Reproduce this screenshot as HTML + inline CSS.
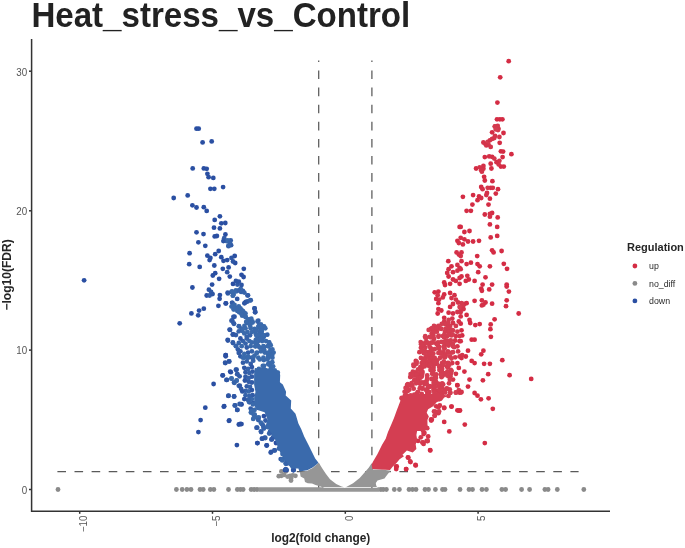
<!DOCTYPE html>
<html><head><meta charset="utf-8"><title>Heat_stress_vs_Control</title>
<style>html,body{margin:0;padding:0;background:#fff;width:685px;height:548px;overflow:hidden}svg{display:block}</style>
</head><body>
<svg width="685" height="548" viewBox="0 0 685 548">
<rect width="685" height="548" fill="#ffffff"/>
<text transform="translate(31.4,27) scale(1,1.035)" x="0" y="0" font-family="Liberation Sans, Arial, sans-serif" font-weight="bold" font-size="33.1" fill="#222">Heat_stress_vs_Control</text>
<g stroke="#5a5a5a" stroke-width="1.25" stroke-dasharray="8.6 8.5" fill="none">
<line x1="57.4" y1="471.6" x2="578.6" y2="471.6"/>
<line x1="318.7" y1="489.5" x2="318.7" y2="60.5"/>
<line x1="371.9" y1="489.5" x2="371.9" y2="60.5"/>
</g>
<g fill="#8d8d8d">
<circle cx="278.8" cy="476.2" r="2.4"/>
<circle cx="281.4" cy="475.8" r="2.4"/>
<circle cx="285.8" cy="471.4" r="2.4"/>
<circle cx="295.4" cy="475.8" r="2.4"/>
</g>
<g fill="#909090">
<circle cx="284.0" cy="474.9" r="2.4"/>
<circle cx="290.1" cy="475.8" r="2.4"/>
<circle cx="292.8" cy="475.3" r="2.4"/>
<circle cx="291.0" cy="480.6" r="2.4"/>
<circle cx="291.0" cy="478.4" r="2.4"/>
<circle cx="281.4" cy="471.4" r="2.4"/>
</g>
<g fill="#939393">
<circle cx="287.5" cy="476.6" r="2.4"/>
</g>
<g fill="#8a8a8a">
<circle cx="58.0" cy="489.5" r="2.4"/>
<circle cx="176.4" cy="489.5" r="2.4"/>
<circle cx="182.2" cy="489.5" r="2.4"/>
<circle cx="186.9" cy="489.5" r="2.4"/>
<circle cx="191.0" cy="489.5" r="2.4"/>
<circle cx="200.0" cy="489.5" r="2.4"/>
<circle cx="203.2" cy="489.5" r="2.4"/>
<circle cx="210.3" cy="489.5" r="2.4"/>
<circle cx="213.9" cy="489.5" r="2.4"/>
<circle cx="228.5" cy="489.5" r="2.4"/>
<circle cx="237.3" cy="489.5" r="2.4"/>
<circle cx="240.3" cy="489.5" r="2.4"/>
<circle cx="243.1" cy="489.5" r="2.4"/>
<circle cx="251.1" cy="489.5" r="2.4"/>
<circle cx="254.0" cy="489.5" r="2.4"/>
<circle cx="257.0" cy="489.5" r="2.4"/>
<circle cx="380.8" cy="489.5" r="2.4"/>
<circle cx="383.2" cy="489.5" r="2.4"/>
<circle cx="386.4" cy="489.5" r="2.4"/>
<circle cx="394.3" cy="489.5" r="2.4"/>
<circle cx="399.4" cy="489.5" r="2.4"/>
<circle cx="409.0" cy="489.5" r="2.4"/>
<circle cx="412.5" cy="489.5" r="2.4"/>
<circle cx="416.0" cy="489.5" r="2.4"/>
<circle cx="425.0" cy="489.5" r="2.4"/>
<circle cx="428.5" cy="489.5" r="2.4"/>
<circle cx="435.4" cy="489.5" r="2.4"/>
<circle cx="442.5" cy="489.5" r="2.4"/>
<circle cx="445.0" cy="489.5" r="2.4"/>
<circle cx="460.0" cy="489.5" r="2.4"/>
<circle cx="469.0" cy="489.5" r="2.4"/>
<circle cx="472.5" cy="489.5" r="2.4"/>
<circle cx="482.0" cy="489.5" r="2.4"/>
<circle cx="486.4" cy="489.5" r="2.4"/>
<circle cx="501.9" cy="489.5" r="2.4"/>
<circle cx="505.6" cy="489.5" r="2.4"/>
<circle cx="521.6" cy="489.5" r="2.4"/>
<circle cx="529.6" cy="489.5" r="2.4"/>
<circle cx="544.9" cy="489.5" r="2.4"/>
<circle cx="548.1" cy="489.5" r="2.4"/>
<circle cx="557.3" cy="489.5" r="2.4"/>
<circle cx="583.8" cy="489.5" r="2.4"/>
</g>
<g fill="#2a4fa2">
<circle cx="196.5" cy="128.7" r="2.4"/>
<circle cx="198.7" cy="128.7" r="2.4"/>
<circle cx="202.6" cy="142.4" r="2.4"/>
<circle cx="211.7" cy="141.4" r="2.4"/>
<circle cx="192.7" cy="168.4" r="2.4"/>
<circle cx="203.8" cy="168.4" r="2.4"/>
<circle cx="206.7" cy="168.8" r="2.4"/>
<circle cx="207.4" cy="173.8" r="2.4"/>
<circle cx="208.6" cy="177.2" r="2.4"/>
<circle cx="213.3" cy="177.9" r="2.4"/>
<circle cx="210.4" cy="188.8" r="2.4"/>
<circle cx="214.3" cy="188.8" r="2.4"/>
<circle cx="223.1" cy="187.1" r="2.4"/>
<circle cx="173.7" cy="198.0" r="2.4"/>
<circle cx="187.7" cy="195.4" r="2.4"/>
<circle cx="192.4" cy="205.3" r="2.4"/>
<circle cx="196.5" cy="207.5" r="2.4"/>
<circle cx="203.8" cy="207.2" r="2.4"/>
<circle cx="206.7" cy="210.9" r="2.4"/>
<circle cx="219.9" cy="216.3" r="2.4"/>
<circle cx="214.7" cy="219.9" r="2.4"/>
<circle cx="221.3" cy="223.3" r="2.4"/>
<circle cx="225.3" cy="223.0" r="2.4"/>
<circle cx="214.0" cy="227.7" r="2.4"/>
<circle cx="219.9" cy="228.4" r="2.4"/>
<circle cx="196.5" cy="232.3" r="2.4"/>
<circle cx="203.5" cy="234.1" r="2.4"/>
<circle cx="214.7" cy="236.4" r="2.4"/>
<circle cx="216.9" cy="236.0" r="2.4"/>
<circle cx="225.4" cy="234.5" r="2.4"/>
<circle cx="198.4" cy="242.3" r="2.4"/>
<circle cx="205.3" cy="245.8" r="2.4"/>
<circle cx="189.6" cy="253.2" r="2.4"/>
<circle cx="218.7" cy="251.0" r="2.4"/>
<circle cx="215.2" cy="254.2" r="2.4"/>
<circle cx="207.4" cy="255.7" r="2.4"/>
<circle cx="210.4" cy="257.9" r="2.4"/>
<circle cx="209.6" cy="260.1" r="2.4"/>
<circle cx="221.3" cy="257.2" r="2.4"/>
<circle cx="223.5" cy="260.8" r="2.4"/>
<circle cx="227.2" cy="260.1" r="2.4"/>
<circle cx="234.7" cy="256.0" r="2.4"/>
<circle cx="235.2" cy="263.0" r="2.4"/>
<circle cx="189.2" cy="264.2" r="2.4"/>
<circle cx="199.7" cy="266.9" r="2.4"/>
<circle cx="214.3" cy="265.5" r="2.4"/>
<circle cx="222.8" cy="268.8" r="2.4"/>
<circle cx="228.6" cy="267.4" r="2.4"/>
<circle cx="212.8" cy="275.5" r="2.4"/>
<circle cx="215.2" cy="273.2" r="2.4"/>
<circle cx="219.1" cy="278.8" r="2.4"/>
<circle cx="229.8" cy="276.6" r="2.4"/>
<circle cx="192.4" cy="287.5" r="2.4"/>
<circle cx="212.1" cy="284.6" r="2.4"/>
<circle cx="206.7" cy="295.5" r="2.4"/>
<circle cx="219.9" cy="295.1" r="2.4"/>
<circle cx="219.6" cy="298.8" r="2.4"/>
<circle cx="218.4" cy="305.8" r="2.4"/>
<circle cx="226.0" cy="303.3" r="2.4"/>
<circle cx="233.0" cy="283.9" r="2.4"/>
<circle cx="203.8" cy="308.7" r="2.4"/>
<circle cx="199.1" cy="310.6" r="2.4"/>
<circle cx="198.2" cy="315.3" r="2.4"/>
<circle cx="191.4" cy="313.4" r="2.4"/>
<circle cx="179.7" cy="323.3" r="2.4"/>
<circle cx="225.7" cy="355.1" r="2.4"/>
<circle cx="230.8" cy="372.2" r="2.4"/>
<circle cx="222.8" cy="375.3" r="2.4"/>
<circle cx="213.6" cy="384.0" r="2.4"/>
<circle cx="205.3" cy="407.7" r="2.4"/>
<circle cx="224.2" cy="406.2" r="2.4"/>
<circle cx="200.6" cy="420.1" r="2.4"/>
<circle cx="229.3" cy="420.5" r="2.4"/>
<circle cx="238.8" cy="424.5" r="2.4"/>
<circle cx="198.4" cy="432.1" r="2.4"/>
<circle cx="236.9" cy="445.1" r="2.4"/>
<circle cx="84.1" cy="280.3" r="2.4"/>
<circle cx="243.8" cy="268.8" r="2.4"/>
<circle cx="241.5" cy="274.8" r="2.4"/>
<circle cx="243.6" cy="277.0" r="2.4"/>
<circle cx="225.7" cy="303.4" r="2.4"/>
<circle cx="229.6" cy="329.6" r="2.4"/>
<circle cx="227.7" cy="339.8" r="2.4"/>
<circle cx="225.7" cy="355.1" r="2.4"/>
<circle cx="225.7" cy="356.3" r="2.4"/>
<circle cx="222.6" cy="375.4" r="2.4"/>
<circle cx="230.2" cy="371.6" r="2.4"/>
<circle cx="223.8" cy="406.7" r="2.4"/>
<circle cx="241.1" cy="404.2" r="2.4"/>
<circle cx="228.9" cy="420.8" r="2.4"/>
<circle cx="240.4" cy="424.0" r="2.4"/>
<circle cx="241.5" cy="404.4" r="2.4"/>
<circle cx="241.5" cy="424.1" r="2.4"/>
<circle cx="257.5" cy="443.1" r="2.4"/>
<circle cx="266.6" cy="445.5" r="2.4"/>
<circle cx="286.7" cy="470.1" r="2.4"/>
<circle cx="263.9" cy="416.1" r="2.4"/>
<circle cx="256.6" cy="427.7" r="2.4"/>
<circle cx="257.3" cy="443.1" r="2.4"/>
<circle cx="266.8" cy="445.3" r="2.4"/>
<circle cx="285.0" cy="470.1" r="2.4"/>
<circle cx="276.0" cy="443.0" r="2.4"/>
</g>
<g fill="#325ca7">
<circle cx="224.2" cy="238.2" r="2.4"/>
<circle cx="231.1" cy="245.2" r="2.4"/>
<circle cx="211.1" cy="291.9" r="2.4"/>
<circle cx="209.6" cy="295.5" r="2.4"/>
<circle cx="237.4" cy="284.6" r="2.4"/>
<circle cx="232.3" cy="302.8" r="2.4"/>
<circle cx="232.3" cy="320.4" r="2.4"/>
<circle cx="233.7" cy="323.3" r="2.4"/>
<circle cx="233.0" cy="334.2" r="2.4"/>
<circle cx="235.9" cy="335.0" r="2.4"/>
<circle cx="233.0" cy="343.0" r="2.4"/>
<circle cx="238.8" cy="352.9" r="2.4"/>
<circle cx="235.9" cy="369.7" r="2.4"/>
<circle cx="237.4" cy="374.1" r="2.4"/>
<circle cx="239.6" cy="376.3" r="2.4"/>
<circle cx="235.2" cy="405.5" r="2.4"/>
<circle cx="239.6" cy="404.0" r="2.4"/>
<circle cx="230.7" cy="240.4" r="2.4"/>
<circle cx="228.5" cy="246.2" r="2.4"/>
<circle cx="242.9" cy="290.9" r="2.4"/>
<circle cx="248.0" cy="295.3" r="2.4"/>
<circle cx="245.8" cy="301.8" r="2.4"/>
<circle cx="247.5" cy="295.4" r="2.4"/>
<circle cx="244.9" cy="302.8" r="2.4"/>
<circle cx="247.5" cy="301.5" r="2.4"/>
<circle cx="250.7" cy="300.2" r="2.4"/>
<circle cx="232.1" cy="302.8" r="2.4"/>
<circle cx="231.5" cy="320.7" r="2.4"/>
<circle cx="234.0" cy="323.8" r="2.4"/>
<circle cx="258.3" cy="320.7" r="2.4"/>
<circle cx="232.8" cy="342.4" r="2.4"/>
<circle cx="237.9" cy="349.4" r="2.4"/>
<circle cx="269.2" cy="342.4" r="2.4"/>
<circle cx="246.8" cy="347.5" r="2.4"/>
<circle cx="240.4" cy="351.3" r="2.4"/>
<circle cx="248.1" cy="352.6" r="2.4"/>
<circle cx="237.2" cy="374.2" r="2.4"/>
<circle cx="226.4" cy="379.9" r="2.4"/>
<circle cx="241.1" cy="388.8" r="2.4"/>
<circle cx="234.7" cy="405.4" r="2.4"/>
<circle cx="240.4" cy="356.3" r="2.4"/>
<circle cx="251.9" cy="357.6" r="2.4"/>
<circle cx="243.0" cy="362.7" r="2.4"/>
<circle cx="250.7" cy="363.9" r="2.4"/>
<circle cx="245.5" cy="372.2" r="2.4"/>
<circle cx="252.6" cy="371.6" r="2.4"/>
<circle cx="245.5" cy="376.7" r="2.4"/>
<circle cx="251.9" cy="376.7" r="2.4"/>
<circle cx="248.7" cy="381.8" r="2.4"/>
<circle cx="251.9" cy="382.5" r="2.4"/>
<circle cx="246.8" cy="386.3" r="2.4"/>
<circle cx="252.6" cy="395.2" r="2.4"/>
<circle cx="249.4" cy="402.3" r="2.4"/>
<circle cx="253.2" cy="402.9" r="2.4"/>
<circle cx="250.7" cy="408.6" r="2.4"/>
<circle cx="257.2" cy="427.7" r="2.4"/>
<circle cx="261.2" cy="432.1" r="2.4"/>
<circle cx="271.4" cy="439.4" r="2.4"/>
<circle cx="264.8" cy="437.7" r="2.4"/>
<circle cx="274.3" cy="450.4" r="2.4"/>
<circle cx="260.9" cy="431.4" r="2.4"/>
<circle cx="270.4" cy="432.8" r="2.4"/>
<circle cx="265.3" cy="438.0" r="2.4"/>
<circle cx="271.9" cy="439.4" r="2.4"/>
<circle cx="274.8" cy="450.4" r="2.4"/>
<circle cx="280.7" cy="459.1" r="2.4"/>
<circle cx="285.8" cy="469.2" r="2.4"/>
<circle cx="265.5" cy="420.5" r="2.4"/>
<circle cx="270.0" cy="432.0" r="2.4"/>
<circle cx="273.0" cy="437.5" r="2.4"/>
</g>
<g fill="#3a6aac">
<circle cx="227.9" cy="240.4" r="2.4"/>
<circle cx="226.4" cy="241.1" r="2.4"/>
<circle cx="231.5" cy="291.9" r="2.4"/>
<circle cx="233.7" cy="294.1" r="2.4"/>
<circle cx="235.9" cy="290.4" r="2.4"/>
<circle cx="233.0" cy="295.5" r="2.4"/>
<circle cx="234.5" cy="305.0" r="2.4"/>
<circle cx="235.9" cy="308.0" r="2.4"/>
<circle cx="233.7" cy="309.4" r="2.4"/>
<circle cx="237.4" cy="310.9" r="2.4"/>
<circle cx="238.8" cy="306.5" r="2.4"/>
<circle cx="238.8" cy="326.2" r="2.4"/>
<circle cx="231.5" cy="378.5" r="2.4"/>
<circle cx="236.6" cy="380.7" r="2.4"/>
<circle cx="240.7" cy="288.7" r="2.4"/>
<circle cx="241.5" cy="309.9" r="2.4"/>
<circle cx="244.4" cy="312.8" r="2.4"/>
<circle cx="242.2" cy="315.7" r="2.4"/>
<circle cx="245.8" cy="317.2" r="2.4"/>
<circle cx="250.2" cy="319.3" r="2.4"/>
<circle cx="252.4" cy="321.5" r="2.4"/>
<circle cx="247.3" cy="323.0" r="2.4"/>
<circle cx="250.2" cy="325.9" r="2.4"/>
<circle cx="259.0" cy="325.2" r="2.4"/>
<circle cx="261.9" cy="325.9" r="2.4"/>
<circle cx="264.1" cy="327.4" r="2.4"/>
<circle cx="260.4" cy="328.8" r="2.4"/>
<circle cx="254.6" cy="328.8" r="2.4"/>
<circle cx="244.4" cy="325.9" r="2.4"/>
<circle cx="241.5" cy="328.8" r="2.4"/>
<circle cx="232.1" cy="291.3" r="2.4"/>
<circle cx="236.6" cy="291.3" r="2.4"/>
<circle cx="232.8" cy="295.7" r="2.4"/>
<circle cx="234.0" cy="306.0" r="2.4"/>
<circle cx="231.5" cy="306.6" r="2.4"/>
<circle cx="236.6" cy="309.2" r="2.4"/>
<circle cx="240.4" cy="308.5" r="2.4"/>
<circle cx="243.0" cy="311.1" r="2.4"/>
<circle cx="239.2" cy="312.3" r="2.4"/>
<circle cx="245.5" cy="313.6" r="2.4"/>
<circle cx="241.7" cy="314.3" r="2.4"/>
<circle cx="234.0" cy="309.2" r="2.4"/>
<circle cx="245.5" cy="316.8" r="2.4"/>
<circle cx="248.1" cy="319.4" r="2.4"/>
<circle cx="251.3" cy="318.7" r="2.4"/>
<circle cx="249.4" cy="323.2" r="2.4"/>
<circle cx="252.6" cy="322.6" r="2.4"/>
<circle cx="246.2" cy="321.9" r="2.4"/>
<circle cx="260.9" cy="324.5" r="2.4"/>
<circle cx="264.1" cy="326.4" r="2.4"/>
<circle cx="262.1" cy="328.3" r="2.4"/>
<circle cx="265.3" cy="328.3" r="2.4"/>
<circle cx="258.3" cy="327.0" r="2.4"/>
<circle cx="242.3" cy="330.9" r="2.4"/>
<circle cx="245.5" cy="328.3" r="2.4"/>
<circle cx="247.5" cy="332.1" r="2.4"/>
<circle cx="244.3" cy="333.4" r="2.4"/>
<circle cx="250.7" cy="328.3" r="2.4"/>
<circle cx="251.9" cy="332.1" r="2.4"/>
<circle cx="254.5" cy="330.9" r="2.4"/>
<circle cx="255.8" cy="334.1" r="2.4"/>
<circle cx="259.6" cy="332.1" r="2.4"/>
<circle cx="262.1" cy="334.1" r="2.4"/>
<circle cx="264.7" cy="335.3" r="2.4"/>
<circle cx="259.6" cy="336.6" r="2.4"/>
<circle cx="263.4" cy="337.3" r="2.4"/>
<circle cx="249.4" cy="341.1" r="2.4"/>
<circle cx="251.9" cy="342.4" r="2.4"/>
<circle cx="255.8" cy="339.8" r="2.4"/>
<circle cx="258.3" cy="341.1" r="2.4"/>
<circle cx="262.1" cy="341.1" r="2.4"/>
<circle cx="266.0" cy="341.1" r="2.4"/>
<circle cx="241.7" cy="346.2" r="2.4"/>
<circle cx="250.7" cy="346.2" r="2.4"/>
<circle cx="255.8" cy="346.2" r="2.4"/>
<circle cx="259.6" cy="347.5" r="2.4"/>
<circle cx="263.4" cy="346.2" r="2.4"/>
<circle cx="267.9" cy="346.2" r="2.4"/>
<circle cx="270.4" cy="350.0" r="2.4"/>
<circle cx="272.4" cy="349.4" r="2.4"/>
<circle cx="244.3" cy="353.9" r="2.4"/>
<circle cx="260.9" cy="351.3" r="2.4"/>
<circle cx="264.7" cy="352.6" r="2.4"/>
<circle cx="268.5" cy="353.9" r="2.4"/>
<circle cx="271.1" cy="353.9" r="2.4"/>
<circle cx="273.6" cy="352.6" r="2.4"/>
<circle cx="243.0" cy="357.7" r="2.4"/>
<circle cx="248.1" cy="357.7" r="2.4"/>
<circle cx="253.2" cy="357.7" r="2.4"/>
<circle cx="258.3" cy="357.7" r="2.4"/>
<circle cx="263.4" cy="357.7" r="2.4"/>
<circle cx="268.5" cy="357.7" r="2.4"/>
<circle cx="272.4" cy="357.7" r="2.4"/>
<circle cx="231.5" cy="378.6" r="2.4"/>
<circle cx="236.6" cy="380.5" r="2.4"/>
<circle cx="251.3" cy="412.5" r="2.4"/>
<circle cx="253.8" cy="415.0" r="2.4"/>
<circle cx="257.0" cy="417.6" r="2.4"/>
<circle cx="244.3" cy="357.6" r="2.4"/>
<circle cx="248.1" cy="356.3" r="2.4"/>
<circle cx="254.5" cy="355.6" r="2.4"/>
<circle cx="248.7" cy="391.4" r="2.4"/>
<circle cx="251.9" cy="399.1" r="2.4"/>
<circle cx="254.5" cy="409.9" r="2.4"/>
<circle cx="253.2" cy="418.9" r="2.4"/>
<circle cx="260.9" cy="422.7" r="2.4"/>
<circle cx="248.8" cy="401.5" r="2.4"/>
<circle cx="250.9" cy="412.4" r="2.4"/>
<circle cx="254.6" cy="414.6" r="2.4"/>
<circle cx="258.2" cy="419.0" r="2.4"/>
<circle cx="261.9" cy="424.1" r="2.4"/>
<circle cx="263.4" cy="427.0" r="2.4"/>
<circle cx="282.3" cy="459.1" r="2.4"/>
<circle cx="252.9" cy="404.4" r="2.4"/>
<circle cx="256.6" cy="402.9" r="2.4"/>
<circle cx="251.5" cy="410.9" r="2.4"/>
<circle cx="254.4" cy="414.6" r="2.4"/>
<circle cx="258.8" cy="417.5" r="2.4"/>
<circle cx="274.1" cy="435.0" r="2.4"/>
<circle cx="285.0" cy="456.9" r="2.4"/>
<circle cx="285.8" cy="463.5" r="2.4"/>
<circle cx="285.8" cy="463.5" r="2.4"/>
<circle cx="282.3" cy="460.4" r="2.4"/>
<circle cx="267.5" cy="427.0" r="2.4"/>
<circle cx="279.0" cy="448.5" r="2.4"/>
<circle cx="282.5" cy="454.0" r="2.4"/>
<circle cx="286.0" cy="459.0" r="2.4"/>
<circle cx="290.0" cy="463.5" r="2.4"/>
<circle cx="294.0" cy="466.5" r="2.4"/>
</g>
<g fill="#3663aa">
<circle cx="229.8" cy="242.6" r="2.4"/>
<circle cx="228.6" cy="245.5" r="2.4"/>
<circle cx="227.9" cy="293.4" r="2.4"/>
<circle cx="238.8" cy="290.4" r="2.4"/>
<circle cx="238.8" cy="331.3" r="2.4"/>
<circle cx="235.9" cy="345.9" r="2.4"/>
<circle cx="238.8" cy="343.0" r="2.4"/>
<circle cx="234.5" cy="382.8" r="2.4"/>
<circle cx="238.8" cy="385.8" r="2.4"/>
<circle cx="250.2" cy="300.4" r="2.4"/>
<circle cx="257.5" cy="321.5" r="2.4"/>
<circle cx="241.1" cy="291.9" r="2.4"/>
<circle cx="244.3" cy="292.6" r="2.4"/>
<circle cx="239.2" cy="326.4" r="2.4"/>
<circle cx="250.0" cy="335.3" r="2.4"/>
<circle cx="246.8" cy="336.6" r="2.4"/>
<circle cx="267.3" cy="334.7" r="2.4"/>
<circle cx="236.0" cy="346.2" r="2.4"/>
<circle cx="243.0" cy="341.1" r="2.4"/>
<circle cx="245.5" cy="343.6" r="2.4"/>
<circle cx="246.8" cy="338.5" r="2.4"/>
<circle cx="251.9" cy="351.3" r="2.4"/>
<circle cx="257.0" cy="352.6" r="2.4"/>
<circle cx="234.0" cy="382.5" r="2.4"/>
<circle cx="246.8" cy="361.4" r="2.4"/>
<circle cx="253.2" cy="360.7" r="2.4"/>
<circle cx="248.1" cy="369.0" r="2.4"/>
<circle cx="249.4" cy="372.9" r="2.4"/>
<circle cx="248.7" cy="378.0" r="2.4"/>
<circle cx="250.0" cy="386.9" r="2.4"/>
<circle cx="245.5" cy="390.8" r="2.4"/>
<circle cx="245.5" cy="395.2" r="2.4"/>
<circle cx="249.4" cy="395.9" r="2.4"/>
<circle cx="248.1" cy="399.7" r="2.4"/>
<circle cx="258.3" cy="420.1" r="2.4"/>
<circle cx="269.2" cy="433.6" r="2.4"/>
<circle cx="286.7" cy="463.5" r="2.4"/>
<circle cx="263.1" cy="425.5" r="2.4"/>
<circle cx="263.9" cy="428.5" r="2.4"/>
</g>
<g fill="#2e56a4">
<circle cx="231.5" cy="257.9" r="2.4"/>
<circle cx="233.0" cy="261.5" r="2.4"/>
<circle cx="227.2" cy="272.2" r="2.4"/>
<circle cx="208.9" cy="289.7" r="2.4"/>
<circle cx="212.6" cy="294.1" r="2.4"/>
<circle cx="235.9" cy="280.9" r="2.4"/>
<circle cx="238.8" cy="281.7" r="2.4"/>
<circle cx="234.5" cy="316.7" r="2.4"/>
<circle cx="230.1" cy="329.9" r="2.4"/>
<circle cx="227.9" cy="340.5" r="2.4"/>
<circle cx="225.4" cy="363.1" r="2.4"/>
<circle cx="229.3" cy="361.4" r="2.4"/>
<circle cx="226.9" cy="379.9" r="2.4"/>
<circle cx="228.6" cy="395.7" r="2.4"/>
<circle cx="234.2" cy="396.4" r="2.4"/>
<circle cx="237.4" cy="409.9" r="2.4"/>
<circle cx="223.4" cy="241.1" r="2.4"/>
<circle cx="241.5" cy="285.0" r="2.4"/>
<circle cx="244.4" cy="303.3" r="2.4"/>
<circle cx="254.6" cy="308.4" r="2.4"/>
<circle cx="255.3" cy="312.0" r="2.4"/>
<circle cx="227.7" cy="292.6" r="2.4"/>
<circle cx="237.2" cy="298.9" r="2.4"/>
<circle cx="254.5" cy="308.5" r="2.4"/>
<circle cx="255.1" cy="312.3" r="2.4"/>
<circle cx="233.4" cy="316.8" r="2.4"/>
<circle cx="232.8" cy="334.7" r="2.4"/>
<circle cx="240.4" cy="338.5" r="2.4"/>
<circle cx="225.1" cy="362.7" r="2.4"/>
<circle cx="228.9" cy="361.4" r="2.4"/>
<circle cx="236.6" cy="369.7" r="2.4"/>
<circle cx="239.8" cy="385.7" r="2.4"/>
<circle cx="242.3" cy="391.4" r="2.4"/>
<circle cx="228.3" cy="395.9" r="2.4"/>
<circle cx="234.0" cy="396.5" r="2.4"/>
<circle cx="237.2" cy="409.9" r="2.4"/>
<circle cx="244.3" cy="367.8" r="2.4"/>
<circle cx="251.9" cy="367.1" r="2.4"/>
<circle cx="244.9" cy="380.5" r="2.4"/>
<circle cx="251.9" cy="390.1" r="2.4"/>
<circle cx="244.3" cy="399.1" r="2.4"/>
<circle cx="261.9" cy="438.7" r="2.4"/>
<circle cx="270.7" cy="452.6" r="2.4"/>
<circle cx="293.3" cy="470.1" r="2.4"/>
<circle cx="262.4" cy="438.7" r="2.4"/>
<circle cx="271.2" cy="451.8" r="2.4"/>
<circle cx="293.8" cy="470.1" r="2.4"/>
<circle cx="293.2" cy="470.1" r="2.4"/>
</g>
<g fill="#d42c44">
<circle cx="508.7" cy="61.2" r="2.4"/>
<circle cx="500.2" cy="77.3" r="2.4"/>
<circle cx="497.4" cy="102.6" r="2.4"/>
<circle cx="497.0" cy="119.3" r="2.4"/>
<circle cx="499.9" cy="119.3" r="2.4"/>
<circle cx="502.4" cy="119.3" r="2.4"/>
<circle cx="492.1" cy="132.3" r="2.4"/>
<circle cx="503.5" cy="133.0" r="2.4"/>
<circle cx="499.7" cy="142.8" r="2.4"/>
<circle cx="500.9" cy="151.3" r="2.4"/>
<circle cx="503.1" cy="151.6" r="2.4"/>
<circle cx="511.4" cy="154.2" r="2.4"/>
<circle cx="484.8" cy="157.1" r="2.4"/>
<circle cx="492.1" cy="156.8" r="2.4"/>
<circle cx="502.6" cy="157.1" r="2.4"/>
<circle cx="490.7" cy="163.7" r="2.4"/>
<circle cx="500.9" cy="166.6" r="2.4"/>
<circle cx="503.8" cy="166.6" r="2.4"/>
<circle cx="476.1" cy="168.5" r="2.4"/>
<circle cx="491.4" cy="168.5" r="2.4"/>
<circle cx="484.1" cy="176.8" r="2.4"/>
<circle cx="484.8" cy="180.5" r="2.4"/>
<circle cx="492.4" cy="181.2" r="2.4"/>
<circle cx="481.2" cy="187.0" r="2.4"/>
<circle cx="490.7" cy="187.8" r="2.4"/>
<circle cx="498.0" cy="189.2" r="2.4"/>
<circle cx="495.8" cy="193.6" r="2.4"/>
<circle cx="462.9" cy="196.8" r="2.4"/>
<circle cx="473.1" cy="195.1" r="2.4"/>
<circle cx="479.0" cy="196.5" r="2.4"/>
<circle cx="489.9" cy="198.7" r="2.4"/>
<circle cx="477.5" cy="200.2" r="2.4"/>
<circle cx="472.4" cy="204.6" r="2.4"/>
<circle cx="488.5" cy="204.6" r="2.4"/>
<circle cx="466.6" cy="210.8" r="2.4"/>
<circle cx="470.9" cy="210.8" r="2.4"/>
<circle cx="484.8" cy="214.5" r="2.4"/>
<circle cx="492.1" cy="213.0" r="2.4"/>
<circle cx="497.7" cy="217.4" r="2.4"/>
<circle cx="489.9" cy="224.4" r="2.4"/>
<circle cx="497.2" cy="226.9" r="2.4"/>
<circle cx="460.7" cy="226.9" r="2.4"/>
<circle cx="464.4" cy="232.0" r="2.4"/>
<circle cx="469.5" cy="231.0" r="2.4"/>
<circle cx="490.7" cy="237.4" r="2.4"/>
<circle cx="497.2" cy="235.9" r="2.4"/>
<circle cx="473.1" cy="241.5" r="2.4"/>
<circle cx="479.0" cy="240.8" r="2.4"/>
<circle cx="492.1" cy="250.3" r="2.4"/>
<circle cx="493.6" cy="252.4" r="2.4"/>
<circle cx="501.6" cy="251.0" r="2.4"/>
<circle cx="477.2" cy="256.1" r="2.4"/>
<circle cx="466.6" cy="264.1" r="2.4"/>
<circle cx="470.9" cy="262.7" r="2.4"/>
<circle cx="477.5" cy="264.1" r="2.4"/>
<circle cx="479.7" cy="266.3" r="2.4"/>
<circle cx="489.9" cy="266.3" r="2.4"/>
<circle cx="503.8" cy="263.8" r="2.4"/>
<circle cx="507.0" cy="268.8" r="2.4"/>
<circle cx="478.2" cy="272.2" r="2.4"/>
<circle cx="461.5" cy="276.5" r="2.4"/>
<circle cx="468.8" cy="279.5" r="2.4"/>
<circle cx="465.8" cy="280.9" r="2.4"/>
<circle cx="474.6" cy="280.9" r="2.4"/>
<circle cx="485.5" cy="277.3" r="2.4"/>
<circle cx="482.6" cy="284.6" r="2.4"/>
<circle cx="492.1" cy="284.6" r="2.4"/>
<circle cx="506.7" cy="284.6" r="2.4"/>
<circle cx="459.6" cy="226.9" r="2.4"/>
<circle cx="457.4" cy="240.8" r="2.4"/>
<circle cx="448.3" cy="261.2" r="2.4"/>
<circle cx="451.5" cy="266.3" r="2.4"/>
<circle cx="448.6" cy="276.5" r="2.4"/>
<circle cx="444.2" cy="282.4" r="2.4"/>
<circle cx="450.1" cy="283.8" r="2.4"/>
<circle cx="459.6" cy="283.8" r="2.4"/>
<circle cx="481.2" cy="288.6" r="2.4"/>
<circle cx="481.9" cy="290.8" r="2.4"/>
<circle cx="489.2" cy="289.4" r="2.4"/>
<circle cx="506.7" cy="286.5" r="2.4"/>
<circle cx="508.9" cy="291.6" r="2.4"/>
<circle cx="474.6" cy="300.8" r="2.4"/>
<circle cx="492.1" cy="303.7" r="2.4"/>
<circle cx="506.7" cy="300.3" r="2.4"/>
<circle cx="506.0" cy="306.2" r="2.4"/>
<circle cx="466.6" cy="314.9" r="2.4"/>
<circle cx="518.7" cy="313.5" r="2.4"/>
<circle cx="469.5" cy="320.0" r="2.4"/>
<circle cx="470.2" cy="323.0" r="2.4"/>
<circle cx="475.3" cy="325.1" r="2.4"/>
<circle cx="479.7" cy="324.1" r="2.4"/>
<circle cx="494.6" cy="319.3" r="2.4"/>
<circle cx="490.7" cy="324.4" r="2.4"/>
<circle cx="490.4" cy="329.2" r="2.4"/>
<circle cx="460.7" cy="323.7" r="2.4"/>
<circle cx="461.5" cy="330.3" r="2.4"/>
<circle cx="462.2" cy="335.4" r="2.4"/>
<circle cx="471.7" cy="339.7" r="2.4"/>
<circle cx="474.6" cy="339.7" r="2.4"/>
<circle cx="490.9" cy="336.8" r="2.4"/>
<circle cx="468.0" cy="350.7" r="2.4"/>
<circle cx="483.4" cy="350.7" r="2.4"/>
<circle cx="481.2" cy="354.3" r="2.4"/>
<circle cx="465.8" cy="356.5" r="2.4"/>
<circle cx="471.7" cy="360.9" r="2.4"/>
<circle cx="474.6" cy="363.1" r="2.4"/>
<circle cx="484.1" cy="363.8" r="2.4"/>
<circle cx="489.9" cy="363.8" r="2.4"/>
<circle cx="502.3" cy="360.2" r="2.4"/>
<circle cx="464.4" cy="371.6" r="2.4"/>
<circle cx="488.2" cy="374.2" r="2.4"/>
<circle cx="509.6" cy="375.2" r="2.4"/>
<circle cx="531.2" cy="378.9" r="2.4"/>
<circle cx="469.5" cy="379.6" r="2.4"/>
<circle cx="482.9" cy="380.3" r="2.4"/>
<circle cx="468.0" cy="386.6" r="2.4"/>
<circle cx="474.6" cy="393.0" r="2.4"/>
<circle cx="477.5" cy="395.7" r="2.4"/>
<circle cx="480.9" cy="399.3" r="2.4"/>
<circle cx="488.6" cy="398.3" r="2.4"/>
<circle cx="492.8" cy="408.8" r="2.4"/>
<circle cx="460.0" cy="410.5" r="2.4"/>
<circle cx="464.8" cy="424.6" r="2.4"/>
<circle cx="484.8" cy="443.1" r="2.4"/>
<circle cx="445.0" cy="285.0" r="2.4"/>
<circle cx="434.7" cy="292.3" r="2.4"/>
<circle cx="438.4" cy="291.6" r="2.4"/>
<circle cx="444.2" cy="294.5" r="2.4"/>
<circle cx="450.1" cy="293.0" r="2.4"/>
<circle cx="450.1" cy="306.9" r="2.4"/>
<circle cx="441.3" cy="310.5" r="2.4"/>
<circle cx="437.7" cy="313.5" r="2.4"/>
<circle cx="444.2" cy="317.8" r="2.4"/>
<circle cx="448.6" cy="312.7" r="2.4"/>
<circle cx="457.4" cy="363.1" r="2.4"/>
<circle cx="458.8" cy="367.9" r="2.4"/>
<circle cx="457.4" cy="385.4" r="2.4"/>
<circle cx="451.5" cy="406.6" r="2.4"/>
<circle cx="457.4" cy="410.3" r="2.4"/>
<circle cx="444.2" cy="421.9" r="2.4"/>
<circle cx="449.3" cy="431.4" r="2.4"/>
<circle cx="430.1" cy="450.1" r="2.4"/>
<circle cx="415.5" cy="465.0" r="2.4"/>
<circle cx="406.1" cy="469.1" r="2.4"/>
<circle cx="396.2" cy="466.7" r="2.4"/>
<circle cx="396.2" cy="469.1" r="2.4"/>
<circle cx="451.5" cy="406.6" r="2.4"/>
<circle cx="458.8" cy="410.7" r="2.4"/>
<circle cx="457.3" cy="385.1" r="2.4"/>
<circle cx="430.3" cy="450.4" r="2.4"/>
<circle cx="415.7" cy="465.4" r="2.4"/>
<circle cx="406.2" cy="469.1" r="2.4"/>
<circle cx="396.7" cy="466.5" r="2.4"/>
</g>
<g fill="#d43a4e">
<circle cx="494.8" cy="126.6" r="2.4"/>
<circle cx="497.7" cy="125.9" r="2.4"/>
<circle cx="498.5" cy="128.8" r="2.4"/>
<circle cx="495.0" cy="126.5" r="2.4"/>
<circle cx="497.2" cy="127.2" r="2.4"/>
<circle cx="498.0" cy="130.1" r="2.4"/>
<circle cx="485.5" cy="144.0" r="2.4"/>
<circle cx="488.5" cy="144.7" r="2.4"/>
<circle cx="461.5" cy="303.2" r="2.4"/>
<circle cx="464.4" cy="304.0" r="2.4"/>
<circle cx="462.9" cy="306.2" r="2.4"/>
<circle cx="444.2" cy="321.5" r="2.4"/>
<circle cx="455.9" cy="325.9" r="2.4"/>
<circle cx="457.4" cy="331.7" r="2.4"/>
<circle cx="425.3" cy="337.6" r="2.4"/>
<circle cx="419.4" cy="352.2" r="2.4"/>
<circle cx="438.4" cy="413.2" r="2.4"/>
<circle cx="426.7" cy="440.9" r="2.4"/>
<circle cx="427.7" cy="441.0" r="2.4"/>
<circle cx="427.3" cy="440.9" r="2.4"/>
</g>
<g fill="#d43e52">
<circle cx="495.8" cy="129.4" r="2.4"/>
<circle cx="487.7" cy="141.8" r="2.4"/>
<circle cx="460.7" cy="308.4" r="2.4"/>
<circle cx="459.6" cy="306.9" r="2.4"/>
<circle cx="448.6" cy="320.0" r="2.4"/>
<circle cx="446.4" cy="324.4" r="2.4"/>
<circle cx="450.1" cy="325.9" r="2.4"/>
<circle cx="434.0" cy="325.9" r="2.4"/>
<circle cx="438.4" cy="325.9" r="2.4"/>
<circle cx="431.1" cy="328.8" r="2.4"/>
<circle cx="435.5" cy="328.8" r="2.4"/>
<circle cx="431.8" cy="333.2" r="2.4"/>
<circle cx="436.9" cy="331.7" r="2.4"/>
<circle cx="441.3" cy="328.8" r="2.4"/>
<circle cx="445.0" cy="331.7" r="2.4"/>
<circle cx="448.6" cy="330.3" r="2.4"/>
<circle cx="453.0" cy="330.3" r="2.4"/>
<circle cx="429.6" cy="336.8" r="2.4"/>
<circle cx="434.0" cy="339.0" r="2.4"/>
<circle cx="438.4" cy="336.8" r="2.4"/>
<circle cx="442.8" cy="336.1" r="2.4"/>
<circle cx="447.2" cy="336.1" r="2.4"/>
<circle cx="451.5" cy="335.4" r="2.4"/>
<circle cx="422.3" cy="343.4" r="2.4"/>
<circle cx="426.7" cy="341.9" r="2.4"/>
<circle cx="431.1" cy="342.7" r="2.4"/>
<circle cx="436.2" cy="343.4" r="2.4"/>
<circle cx="441.3" cy="341.9" r="2.4"/>
<circle cx="446.4" cy="341.2" r="2.4"/>
<circle cx="450.8" cy="340.5" r="2.4"/>
<circle cx="420.9" cy="347.8" r="2.4"/>
<circle cx="425.3" cy="347.8" r="2.4"/>
<circle cx="430.4" cy="347.8" r="2.4"/>
<circle cx="434.7" cy="349.2" r="2.4"/>
<circle cx="439.1" cy="347.0" r="2.4"/>
<circle cx="444.2" cy="346.3" r="2.4"/>
<circle cx="448.6" cy="345.6" r="2.4"/>
<circle cx="453.0" cy="346.3" r="2.4"/>
<circle cx="423.8" cy="352.9" r="2.4"/>
<circle cx="428.2" cy="352.2" r="2.4"/>
<circle cx="433.3" cy="353.6" r="2.4"/>
<circle cx="438.4" cy="352.9" r="2.4"/>
<circle cx="443.5" cy="352.2" r="2.4"/>
<circle cx="447.9" cy="351.4" r="2.4"/>
<circle cx="453.0" cy="352.2" r="2.4"/>
<circle cx="420.9" cy="358.0" r="2.4"/>
<circle cx="425.3" cy="358.0" r="2.4"/>
<circle cx="429.6" cy="359.5" r="2.4"/>
<circle cx="434.7" cy="358.0" r="2.4"/>
<circle cx="439.9" cy="358.0" r="2.4"/>
<circle cx="445.0" cy="357.3" r="2.4"/>
<circle cx="450.1" cy="356.5" r="2.4"/>
<circle cx="416.5" cy="363.8" r="2.4"/>
<circle cx="421.6" cy="363.1" r="2.4"/>
<circle cx="426.7" cy="363.8" r="2.4"/>
<circle cx="431.8" cy="363.8" r="2.4"/>
<circle cx="436.9" cy="363.8" r="2.4"/>
<circle cx="442.0" cy="363.1" r="2.4"/>
<circle cx="447.2" cy="363.1" r="2.4"/>
<circle cx="451.5" cy="370.8" r="2.4"/>
<circle cx="455.9" cy="392.7" r="2.4"/>
<circle cx="438.4" cy="407.3" r="2.4"/>
<circle cx="435.5" cy="411.7" r="2.4"/>
<circle cx="434.7" cy="415.4" r="2.4"/>
<circle cx="422.3" cy="442.4" r="2.4"/>
<circle cx="421.9" cy="423.5" r="2.4"/>
<circle cx="427.2" cy="428.2" r="2.4"/>
<circle cx="439.1" cy="411.4" r="2.4"/>
<circle cx="434.0" cy="411.4" r="2.4"/>
<circle cx="434.7" cy="415.8" r="2.4"/>
<circle cx="455.9" cy="392.4" r="2.4"/>
<circle cx="458.8" cy="390.2" r="2.4"/>
<circle cx="423.0" cy="442.4" r="2.4"/>
<circle cx="423.0" cy="430.7" r="2.4"/>
</g>
<g fill="#d4354b">
<circle cx="495.0" cy="135.9" r="2.4"/>
<circle cx="499.4" cy="137.0" r="2.4"/>
<circle cx="483.4" cy="142.5" r="2.4"/>
<circle cx="489.9" cy="140.3" r="2.4"/>
<circle cx="492.1" cy="138.9" r="2.4"/>
<circle cx="494.3" cy="138.1" r="2.4"/>
<circle cx="490.7" cy="146.9" r="2.4"/>
<circle cx="486.3" cy="145.4" r="2.4"/>
<circle cx="494.3" cy="158.6" r="2.4"/>
<circle cx="499.4" cy="160.8" r="2.4"/>
<circle cx="498.7" cy="164.4" r="2.4"/>
<circle cx="479.7" cy="167.3" r="2.4"/>
<circle cx="481.2" cy="170.3" r="2.4"/>
<circle cx="483.4" cy="168.8" r="2.4"/>
<circle cx="481.9" cy="171.7" r="2.4"/>
<circle cx="487.7" cy="187.8" r="2.4"/>
<circle cx="460.7" cy="256.1" r="2.4"/>
<circle cx="457.4" cy="264.9" r="2.4"/>
<circle cx="457.4" cy="270.7" r="2.4"/>
<circle cx="463.6" cy="309.1" r="2.4"/>
<circle cx="460.7" cy="312.0" r="2.4"/>
<circle cx="462.2" cy="355.1" r="2.4"/>
<circle cx="461.5" cy="392.0" r="2.4"/>
<circle cx="437.7" cy="295.2" r="2.4"/>
<circle cx="439.1" cy="299.6" r="2.4"/>
<circle cx="455.9" cy="299.6" r="2.4"/>
<circle cx="458.1" cy="302.5" r="2.4"/>
<circle cx="457.4" cy="312.0" r="2.4"/>
<circle cx="452.3" cy="318.6" r="2.4"/>
<circle cx="453.0" cy="323.0" r="2.4"/>
<circle cx="459.6" cy="336.1" r="2.4"/>
<circle cx="455.9" cy="336.1" r="2.4"/>
<circle cx="455.2" cy="340.5" r="2.4"/>
<circle cx="459.6" cy="341.2" r="2.4"/>
<circle cx="457.4" cy="346.3" r="2.4"/>
<circle cx="458.1" cy="351.4" r="2.4"/>
<circle cx="415.8" cy="360.9" r="2.4"/>
<circle cx="455.2" cy="357.3" r="2.4"/>
<circle cx="459.6" cy="356.5" r="2.4"/>
<circle cx="452.3" cy="363.1" r="2.4"/>
<circle cx="455.9" cy="373.8" r="2.4"/>
<circle cx="453.0" cy="379.6" r="2.4"/>
<circle cx="459.6" cy="392.7" r="2.4"/>
<circle cx="431.8" cy="419.7" r="2.4"/>
<circle cx="428.2" cy="436.5" r="2.4"/>
<circle cx="423.6" cy="434.0" r="2.4"/>
<circle cx="423.6" cy="443.9" r="2.4"/>
<circle cx="436.2" cy="406.3" r="2.4"/>
<circle cx="439.8" cy="405.5" r="2.4"/>
<circle cx="431.1" cy="419.4" r="2.4"/>
<circle cx="461.0" cy="392.4" r="2.4"/>
<circle cx="420.8" cy="437.3" r="2.4"/>
<circle cx="424.4" cy="432.9" r="2.4"/>
<circle cx="410.5" cy="462.1" r="2.4"/>
</g>
<g fill="#d43048">
<circle cx="489.2" cy="156.4" r="2.4"/>
<circle cx="496.5" cy="162.2" r="2.4"/>
<circle cx="483.4" cy="165.9" r="2.4"/>
<circle cx="492.8" cy="187.8" r="2.4"/>
<circle cx="482.6" cy="189.2" r="2.4"/>
<circle cx="487.0" cy="192.9" r="2.4"/>
<circle cx="481.2" cy="198.0" r="2.4"/>
<circle cx="486.3" cy="195.1" r="2.4"/>
<circle cx="489.9" cy="213.8" r="2.4"/>
<circle cx="489.9" cy="216.7" r="2.4"/>
<circle cx="460.7" cy="237.8" r="2.4"/>
<circle cx="464.4" cy="239.3" r="2.4"/>
<circle cx="468.0" cy="241.5" r="2.4"/>
<circle cx="462.9" cy="244.4" r="2.4"/>
<circle cx="461.5" cy="252.4" r="2.4"/>
<circle cx="461.5" cy="261.2" r="2.4"/>
<circle cx="460.7" cy="269.2" r="2.4"/>
<circle cx="467.3" cy="275.8" r="2.4"/>
<circle cx="458.8" cy="243.0" r="2.4"/>
<circle cx="456.6" cy="252.4" r="2.4"/>
<circle cx="458.8" cy="254.6" r="2.4"/>
<circle cx="448.6" cy="269.2" r="2.4"/>
<circle cx="453.0" cy="272.2" r="2.4"/>
<circle cx="447.2" cy="272.9" r="2.4"/>
<circle cx="459.6" cy="267.8" r="2.4"/>
<circle cx="453.0" cy="279.5" r="2.4"/>
<circle cx="455.9" cy="280.9" r="2.4"/>
<circle cx="459.6" cy="278.0" r="2.4"/>
<circle cx="481.9" cy="300.3" r="2.4"/>
<circle cx="485.5" cy="302.5" r="2.4"/>
<circle cx="483.4" cy="304.7" r="2.4"/>
<circle cx="481.9" cy="305.4" r="2.4"/>
<circle cx="466.6" cy="303.2" r="2.4"/>
<circle cx="460.7" cy="316.4" r="2.4"/>
<circle cx="460.7" cy="341.2" r="2.4"/>
<circle cx="461.5" cy="358.0" r="2.4"/>
<circle cx="442.8" cy="297.4" r="2.4"/>
<circle cx="436.2" cy="298.9" r="2.4"/>
<circle cx="438.4" cy="303.2" r="2.4"/>
<circle cx="454.5" cy="295.2" r="2.4"/>
<circle cx="451.5" cy="298.1" r="2.4"/>
<circle cx="453.0" cy="304.0" r="2.4"/>
<circle cx="438.4" cy="309.1" r="2.4"/>
<circle cx="453.0" cy="313.5" r="2.4"/>
<circle cx="458.8" cy="321.5" r="2.4"/>
<circle cx="444.2" cy="408.1" r="2.4"/>
<circle cx="418.0" cy="440.9" r="2.4"/>
<circle cx="407.9" cy="457.4" r="2.4"/>
<circle cx="410.2" cy="461.5" r="2.4"/>
<circle cx="431.2" cy="420.6" r="2.4"/>
<circle cx="444.2" cy="407.7" r="2.4"/>
<circle cx="408.4" cy="457.7" r="2.4"/>
</g>
<g fill="#3a6aac">
<circle cx="263.8" cy="360.0" r="2.4"/>
<circle cx="260.8" cy="329.0" r="2.4"/>
<circle cx="269.3" cy="362.9" r="2.4"/>
<circle cx="271.3" cy="368.8" r="2.4"/>
<circle cx="267.4" cy="353.0" r="2.4"/>
<circle cx="257.2" cy="341.4" r="2.4"/>
<circle cx="269.2" cy="364.5" r="2.4"/>
<circle cx="262.8" cy="365.9" r="2.4"/>
<circle cx="269.1" cy="352.6" r="2.4"/>
<circle cx="259.8" cy="359.4" r="2.4"/>
<circle cx="258.3" cy="346.2" r="2.4"/>
<circle cx="258.9" cy="369.0" r="2.4"/>
<circle cx="277.8" cy="372.7" r="2.4"/>
<circle cx="263.6" cy="336.8" r="2.4"/>
<circle cx="274.7" cy="370.3" r="2.4"/>
<circle cx="265.3" cy="370.2" r="2.4"/>
<circle cx="264.9" cy="372.1" r="2.4"/>
<circle cx="268.0" cy="356.8" r="2.4"/>
<circle cx="255.2" cy="342.3" r="2.4"/>
<circle cx="261.6" cy="326.6" r="2.4"/>
<circle cx="262.5" cy="338.3" r="2.4"/>
<circle cx="257.6" cy="338.3" r="2.4"/>
<circle cx="271.8" cy="373.6" r="2.4"/>
<circle cx="258.2" cy="334.9" r="2.4"/>
<circle cx="262.4" cy="370.1" r="2.4"/>
<circle cx="263.6" cy="374.0" r="2.4"/>
<circle cx="268.6" cy="346.2" r="2.4"/>
<circle cx="271.2" cy="367.2" r="2.4"/>
<circle cx="268.4" cy="370.7" r="2.4"/>
<circle cx="256.4" cy="335.5" r="2.4"/>
<circle cx="267.2" cy="359.4" r="2.4"/>
<circle cx="270.7" cy="354.8" r="2.4"/>
<circle cx="270.7" cy="345.2" r="2.4"/>
<circle cx="270.9" cy="366.1" r="2.4"/>
<circle cx="262.9" cy="347.9" r="2.4"/>
<circle cx="262.4" cy="335.5" r="2.4"/>
<circle cx="264.0" cy="366.0" r="2.4"/>
<circle cx="261.4" cy="370.9" r="2.4"/>
<circle cx="255.2" cy="346.3" r="2.4"/>
<circle cx="272.3" cy="362.2" r="2.4"/>
<circle cx="256.7" cy="353.1" r="2.4"/>
<circle cx="257.3" cy="345.0" r="2.4"/>
<circle cx="261.8" cy="330.9" r="2.4"/>
<circle cx="264.0" cy="346.9" r="2.4"/>
<circle cx="268.9" cy="342.6" r="2.4"/>
<circle cx="256.7" cy="341.8" r="2.4"/>
<circle cx="268.1" cy="364.1" r="2.4"/>
<circle cx="275.9" cy="373.8" r="2.4"/>
<circle cx="272.2" cy="355.1" r="2.4"/>
<circle cx="260.7" cy="339.0" r="2.4"/>
<circle cx="264.3" cy="350.1" r="2.4"/>
<circle cx="273.1" cy="366.3" r="2.4"/>
<circle cx="256.3" cy="330.5" r="2.4"/>
</g>
<g fill="#d43e52">
<circle cx="449.8" cy="333.2" r="2.4"/>
<circle cx="431.1" cy="328.9" r="2.4"/>
<circle cx="439.2" cy="327.6" r="2.4"/>
<circle cx="439.0" cy="328.1" r="2.4"/>
<circle cx="438.7" cy="335.6" r="2.4"/>
<circle cx="436.7" cy="327.1" r="2.4"/>
<circle cx="445.5" cy="328.8" r="2.4"/>
<circle cx="429.9" cy="360.7" r="2.4"/>
<circle cx="451.7" cy="352.6" r="2.4"/>
<circle cx="433.0" cy="357.3" r="2.4"/>
<circle cx="439.7" cy="351.2" r="2.4"/>
<circle cx="425.5" cy="342.5" r="2.4"/>
<circle cx="445.1" cy="354.8" r="2.4"/>
<circle cx="449.1" cy="330.5" r="2.4"/>
<circle cx="451.8" cy="329.9" r="2.4"/>
<circle cx="448.9" cy="343.8" r="2.4"/>
<circle cx="423.6" cy="345.1" r="2.4"/>
<circle cx="437.2" cy="360.3" r="2.4"/>
<circle cx="438.1" cy="327.4" r="2.4"/>
<circle cx="445.2" cy="324.2" r="2.4"/>
<circle cx="448.3" cy="352.7" r="2.4"/>
<circle cx="431.1" cy="348.8" r="2.4"/>
<circle cx="447.2" cy="340.7" r="2.4"/>
<circle cx="429.4" cy="346.0" r="2.4"/>
<circle cx="433.3" cy="360.1" r="2.4"/>
<circle cx="424.3" cy="352.5" r="2.4"/>
<circle cx="444.6" cy="343.8" r="2.4"/>
<circle cx="438.0" cy="342.3" r="2.4"/>
<circle cx="436.3" cy="328.6" r="2.4"/>
<circle cx="440.9" cy="353.7" r="2.4"/>
<circle cx="432.7" cy="353.4" r="2.4"/>
<circle cx="426.0" cy="357.0" r="2.4"/>
<circle cx="432.2" cy="328.3" r="2.4"/>
<circle cx="443.9" cy="342.2" r="2.4"/>
<circle cx="426.2" cy="337.9" r="2.4"/>
<circle cx="444.4" cy="334.3" r="2.4"/>
<circle cx="424.0" cy="346.5" r="2.4"/>
<circle cx="452.7" cy="334.5" r="2.4"/>
<circle cx="428.0" cy="343.1" r="2.4"/>
<circle cx="444.4" cy="348.5" r="2.4"/>
<circle cx="448.7" cy="331.7" r="2.4"/>
<circle cx="433.5" cy="335.9" r="2.4"/>
<circle cx="437.2" cy="344.5" r="2.4"/>
<circle cx="441.8" cy="323.8" r="2.4"/>
<circle cx="431.2" cy="350.1" r="2.4"/>
<circle cx="444.1" cy="337.5" r="2.4"/>
<circle cx="434.4" cy="331.8" r="2.4"/>
<circle cx="446.2" cy="340.7" r="2.4"/>
<circle cx="430.1" cy="358.8" r="2.4"/>
<circle cx="443.7" cy="346.6" r="2.4"/>
<circle cx="440.7" cy="328.7" r="2.4"/>
<circle cx="432.3" cy="328.5" r="2.4"/>
<circle cx="430.3" cy="358.0" r="2.4"/>
<circle cx="445.7" cy="355.7" r="2.4"/>
<circle cx="448.2" cy="322.7" r="2.4"/>
<circle cx="449.5" cy="330.5" r="2.4"/>
<circle cx="420.7" cy="342.1" r="2.4"/>
<circle cx="448.4" cy="335.0" r="2.4"/>
<circle cx="424.5" cy="344.4" r="2.4"/>
<circle cx="430.7" cy="361.1" r="2.4"/>
<circle cx="427.6" cy="356.1" r="2.4"/>
<circle cx="438.5" cy="347.9" r="2.4"/>
<circle cx="432.8" cy="342.5" r="2.4"/>
<circle cx="447.9" cy="327.2" r="2.4"/>
<circle cx="437.8" cy="345.1" r="2.4"/>
<circle cx="448.0" cy="327.7" r="2.4"/>
<circle cx="443.2" cy="356.6" r="2.4"/>
<circle cx="430.5" cy="354.5" r="2.4"/>
<circle cx="428.8" cy="353.8" r="2.4"/>
<circle cx="421.1" cy="344.2" r="2.4"/>
<circle cx="423.1" cy="359.5" r="2.4"/>
<circle cx="428.7" cy="329.9" r="2.4"/>
<circle cx="425.1" cy="351.6" r="2.4"/>
<circle cx="422.6" cy="345.1" r="2.4"/>
<circle cx="425.9" cy="361.7" r="2.4"/>
<circle cx="452.9" cy="343.7" r="2.4"/>
<circle cx="454.2" cy="347.2" r="2.4"/>
<circle cx="422.5" cy="351.0" r="2.4"/>
<circle cx="424.0" cy="353.2" r="2.4"/>
<circle cx="447.5" cy="344.0" r="2.4"/>
<circle cx="425.7" cy="361.2" r="2.4"/>
<circle cx="425.2" cy="336.2" r="2.4"/>
<circle cx="444.3" cy="348.2" r="2.4"/>
<circle cx="439.0" cy="347.7" r="2.4"/>
<circle cx="451.5" cy="358.5" r="2.4"/>
<circle cx="431.1" cy="337.4" r="2.4"/>
<circle cx="435.8" cy="377.6" r="2.4"/>
<circle cx="416.1" cy="383.3" r="2.4"/>
<circle cx="409.3" cy="389.7" r="2.4"/>
<circle cx="450.4" cy="376.2" r="2.4"/>
<circle cx="429.9" cy="386.1" r="2.4"/>
<circle cx="441.6" cy="385.8" r="2.4"/>
<circle cx="427.1" cy="389.4" r="2.4"/>
<circle cx="401.7" cy="398.0" r="2.4"/>
<circle cx="446.8" cy="388.3" r="2.4"/>
<circle cx="410.9" cy="385.6" r="2.4"/>
<circle cx="411.6" cy="383.1" r="2.4"/>
<circle cx="413.4" cy="364.6" r="2.4"/>
<circle cx="441.4" cy="370.9" r="2.4"/>
<circle cx="429.3" cy="361.7" r="2.4"/>
<circle cx="429.5" cy="392.1" r="2.4"/>
<circle cx="440.9" cy="373.9" r="2.4"/>
<circle cx="407.1" cy="385.0" r="2.4"/>
<circle cx="416.3" cy="372.3" r="2.4"/>
<circle cx="411.3" cy="376.5" r="2.4"/>
<circle cx="435.6" cy="376.8" r="2.4"/>
<circle cx="433.8" cy="389.7" r="2.4"/>
<circle cx="442.2" cy="383.5" r="2.4"/>
<circle cx="428.2" cy="386.9" r="2.4"/>
<circle cx="447.7" cy="367.3" r="2.4"/>
<circle cx="422.2" cy="388.7" r="2.4"/>
<circle cx="438.2" cy="393.7" r="2.4"/>
<circle cx="414.2" cy="373.4" r="2.4"/>
<circle cx="421.8" cy="376.5" r="2.4"/>
<circle cx="433.6" cy="390.1" r="2.4"/>
<circle cx="412.3" cy="385.5" r="2.4"/>
<circle cx="439.2" cy="367.1" r="2.4"/>
<circle cx="435.5" cy="397.0" r="2.4"/>
<circle cx="420.4" cy="373.3" r="2.4"/>
<circle cx="432.8" cy="373.5" r="2.4"/>
<circle cx="431.4" cy="379.0" r="2.4"/>
<circle cx="418.4" cy="376.5" r="2.4"/>
<circle cx="407.6" cy="391.2" r="2.4"/>
<circle cx="419.8" cy="388.2" r="2.4"/>
<circle cx="429.7" cy="396.5" r="2.4"/>
<circle cx="441.5" cy="366.2" r="2.4"/>
<circle cx="423.7" cy="361.4" r="2.4"/>
<circle cx="439.4" cy="370.1" r="2.4"/>
<circle cx="450.8" cy="369.9" r="2.4"/>
<circle cx="426.7" cy="380.4" r="2.4"/>
<circle cx="443.1" cy="384.4" r="2.4"/>
<circle cx="445.9" cy="373.6" r="2.4"/>
<circle cx="435.8" cy="390.7" r="2.4"/>
<circle cx="440.7" cy="365.9" r="2.4"/>
<circle cx="430.8" cy="386.7" r="2.4"/>
<circle cx="432.2" cy="398.4" r="2.4"/>
<circle cx="450.7" cy="373.2" r="2.4"/>
<circle cx="416.7" cy="361.8" r="2.4"/>
<circle cx="433.5" cy="370.3" r="2.4"/>
<circle cx="405.6" cy="388.0" r="2.4"/>
<circle cx="435.1" cy="380.7" r="2.4"/>
<circle cx="414.3" cy="394.6" r="2.4"/>
<circle cx="448.2" cy="362.9" r="2.4"/>
<circle cx="441.3" cy="370.2" r="2.4"/>
<circle cx="450.3" cy="392.9" r="2.4"/>
<circle cx="420.0" cy="383.8" r="2.4"/>
<circle cx="401.8" cy="398.6" r="2.4"/>
<circle cx="435.1" cy="381.4" r="2.4"/>
<circle cx="425.8" cy="365.1" r="2.4"/>
<circle cx="439.0" cy="390.2" r="2.4"/>
<circle cx="418.7" cy="397.8" r="2.4"/>
<circle cx="418.1" cy="369.3" r="2.4"/>
<circle cx="410.6" cy="374.1" r="2.4"/>
<circle cx="424.8" cy="382.8" r="2.4"/>
<circle cx="429.2" cy="366.2" r="2.4"/>
<circle cx="446.8" cy="366.4" r="2.4"/>
<circle cx="435.7" cy="382.9" r="2.4"/>
<circle cx="431.4" cy="397.9" r="2.4"/>
<circle cx="413.7" cy="388.7" r="2.4"/>
<circle cx="427.2" cy="375.5" r="2.4"/>
<circle cx="421.2" cy="369.0" r="2.4"/>
<circle cx="405.7" cy="397.3" r="2.4"/>
<circle cx="433.5" cy="367.7" r="2.4"/>
<circle cx="441.9" cy="368.3" r="2.4"/>
<circle cx="434.6" cy="384.1" r="2.4"/>
<circle cx="441.5" cy="377.2" r="2.4"/>
<circle cx="449.7" cy="389.3" r="2.4"/>
<circle cx="423.6" cy="365.8" r="2.4"/>
<circle cx="413.8" cy="366.2" r="2.4"/>
<circle cx="427.3" cy="392.8" r="2.4"/>
<circle cx="438.7" cy="386.1" r="2.4"/>
<circle cx="422.5" cy="372.0" r="2.4"/>
<circle cx="441.9" cy="387.4" r="2.4"/>
<circle cx="434.7" cy="383.0" r="2.4"/>
<circle cx="441.2" cy="384.2" r="2.4"/>
<circle cx="414.1" cy="375.7" r="2.4"/>
<circle cx="416.5" cy="372.5" r="2.4"/>
<circle cx="446.8" cy="389.0" r="2.4"/>
<circle cx="432.1" cy="378.8" r="2.4"/>
<circle cx="425.5" cy="365.1" r="2.4"/>
<circle cx="424.9" cy="384.2" r="2.4"/>
<circle cx="418.5" cy="381.0" r="2.4"/>
<circle cx="404.5" cy="398.3" r="2.4"/>
<circle cx="441.4" cy="393.0" r="2.4"/>
<circle cx="441.9" cy="369.2" r="2.4"/>
<circle cx="407.3" cy="386.3" r="2.4"/>
<circle cx="443.1" cy="365.0" r="2.4"/>
<circle cx="447.4" cy="371.3" r="2.4"/>
<circle cx="443.2" cy="372.8" r="2.4"/>
<circle cx="443.8" cy="361.5" r="2.4"/>
<circle cx="431.8" cy="369.9" r="2.4"/>
<circle cx="433.2" cy="362.0" r="2.4"/>
<circle cx="433.8" cy="364.9" r="2.4"/>
<circle cx="423.3" cy="363.8" r="2.4"/>
<circle cx="420.3" cy="367.1" r="2.4"/>
<circle cx="417.4" cy="379.5" r="2.4"/>
<circle cx="434.4" cy="386.0" r="2.4"/>
<circle cx="427.5" cy="394.6" r="2.4"/>
<circle cx="421.7" cy="366.7" r="2.4"/>
<circle cx="435.8" cy="375.1" r="2.4"/>
<circle cx="448.6" cy="376.4" r="2.4"/>
<circle cx="449.9" cy="379.8" r="2.4"/>
<circle cx="442.9" cy="375.5" r="2.4"/>
<circle cx="431.8" cy="364.0" r="2.4"/>
<circle cx="421.2" cy="373.7" r="2.4"/>
<circle cx="429.2" cy="386.6" r="2.4"/>
<circle cx="412.9" cy="371.6" r="2.4"/>
<circle cx="420.1" cy="396.4" r="2.4"/>
<circle cx="410.2" cy="377.1" r="2.4"/>
<circle cx="422.2" cy="374.0" r="2.4"/>
<circle cx="420.6" cy="371.7" r="2.4"/>
<circle cx="421.5" cy="368.3" r="2.4"/>
<circle cx="437.2" cy="397.8" r="2.4"/>
<circle cx="447.2" cy="375.4" r="2.4"/>
<circle cx="424.3" cy="382.5" r="2.4"/>
<circle cx="434.3" cy="393.0" r="2.4"/>
<circle cx="427.2" cy="378.1" r="2.4"/>
<circle cx="449.0" cy="383.3" r="2.4"/>
<circle cx="421.7" cy="393.9" r="2.4"/>
<circle cx="421.8" cy="382.5" r="2.4"/>
<circle cx="414.1" cy="373.7" r="2.4"/>
<circle cx="404.6" cy="391.8" r="2.4"/>
<circle cx="425.7" cy="389.8" r="2.4"/>
<circle cx="430.0" cy="364.5" r="2.4"/>
<circle cx="414.3" cy="373.6" r="2.4"/>
<circle cx="440.8" cy="374.7" r="2.4"/>
<circle cx="450.2" cy="392.4" r="2.4"/>
<circle cx="436.1" cy="381.9" r="2.4"/>
<circle cx="436.2" cy="374.3" r="2.4"/>
<circle cx="405.8" cy="394.8" r="2.4"/>
<circle cx="424.2" cy="398.8" r="2.4"/>
<circle cx="438.2" cy="383.6" r="2.4"/>
<circle cx="422.5" cy="388.0" r="2.4"/>
<circle cx="413.0" cy="374.9" r="2.4"/>
<circle cx="417.0" cy="393.3" r="2.4"/>
<circle cx="449.4" cy="364.8" r="2.4"/>
<circle cx="435.7" cy="378.2" r="2.4"/>
<circle cx="439.6" cy="399.1" r="2.4"/>
<circle cx="434.8" cy="387.2" r="2.4"/>
<circle cx="407.9" cy="384.1" r="2.4"/>
<circle cx="432.8" cy="368.7" r="2.4"/>
<circle cx="410.8" cy="395.3" r="2.4"/>
<circle cx="416.9" cy="374.4" r="2.4"/>
<circle cx="442.4" cy="392.3" r="2.4"/>
<circle cx="448.5" cy="395.9" r="2.4"/>
<circle cx="430.5" cy="370.1" r="2.4"/>
<circle cx="444.3" cy="390.0" r="2.4"/>
<circle cx="439.4" cy="398.2" r="2.4"/>
<circle cx="436.9" cy="399.0" r="2.4"/>
<circle cx="424.5" cy="366.4" r="2.4"/>
<circle cx="427.1" cy="398.4" r="2.4"/>
<circle cx="432.1" cy="373.7" r="2.4"/>
<circle cx="406.8" cy="389.0" r="2.4"/>
<circle cx="417.4" cy="378.1" r="2.4"/>
<circle cx="450.7" cy="374.1" r="2.4"/>
<circle cx="434.2" cy="374.8" r="2.4"/>
<circle cx="420.4" cy="377.8" r="2.4"/>
<circle cx="423.4" cy="365.6" r="2.4"/>
<circle cx="433.6" cy="382.9" r="2.4"/>
<circle cx="406.2" cy="399.4" r="2.4"/>
<circle cx="451.3" cy="371.8" r="2.4"/>
<circle cx="418.0" cy="391.8" r="2.4"/>
<circle cx="426.6" cy="383.3" r="2.4"/>
<circle cx="439.9" cy="390.6" r="2.4"/>
<circle cx="414.2" cy="380.2" r="2.4"/>
<circle cx="442.2" cy="395.8" r="2.4"/>
<circle cx="445.1" cy="392.5" r="2.4"/>
<circle cx="434.4" cy="362.0" r="2.4"/>
</g>
<path d="M299.4,472.1 L307.3,470.8 L312.6,468.1 L317.8,463.5 L318.6,462.6 L322.5,468.8 L326.0,474.0 L330.0,479.3 L336.2,483.9 L341.5,486.5 L345.3,487.6 L353.1,483.3 L359.7,478.0 L365.0,472.1 L368.9,467.5 L371.5,463.5 L373.1,469.4 L382.0,469.6 L390.6,470.8 L388.0,473.8 L386.3,476.0 L384.5,478.6 L377.5,480.4 L375.8,483.0 L376.2,485.6 L377.5,488.0 L324.3,488.0 L319.9,486.3 L315.5,485.0 L312.0,483.6 L307.7,483.2 L305.0,481.9 L304.2,478.4 L300.6,476.6 L299.8,471.4ZM258.5,487.3 L379.5,487.3 L379.5,491.7 L258.5,491.7Z" fill="#969696" fill-rule="evenodd"/>
<path d="M272.7,369.2 L278.6,370.7 L280.2,375.0 L279.9,382.3 L282.8,384.5 L286.1,391.8 L285.7,395.4 L291.2,400.5 L290.8,408.6 L295.5,413.7 L296.2,416.1 L298.4,423.4 L301.3,429.2 L304.2,436.5 L307.9,443.8 L311.5,451.1 L315.2,458.4 L318.3,462.5 L317.5,463.8 L312.6,467.6 L307.3,470.3 L299.4,471.5 L298.4,468.6 L291.1,468.6 L288.2,464.2 L284.0,458.4 L279.5,451.1 L277.0,445.0 L275.0,439.3 L272.5,434.2 L268.5,429.8 L266.0,424.7 L267.5,419.6 L264.6,412.3 L255.8,409.4 L254.4,405.0 L254.1,397.7 L255.5,391.9 L254.1,384.6 L254.1,374.4 L254.8,368.0Z" fill="#3a6aac" fill-rule="evenodd"/>
<path d="M449.3,396.1 L444.2,397.5 L442.0,400.4 L436.9,401.9 L433.2,406.3 L428.1,409.2 L426.7,412.8 L428.9,416.5 L427.4,420.0 L427.5,425.3 L429.2,428.6 L424.0,431.0 L417.1,431.0 L416.4,435.1 L417.1,439.5 L415.7,444.6 L416.4,449.0 L412.7,452.6 L406.9,450.4 L402.5,454.8 L404.0,456.3 L399.6,459.2 L396.5,462.9 L392.6,466.8 L390.0,470.1 L385.0,469.8 L372.3,469.0 L371.7,464.4 L372.8,462.0 L377.5,453.9 L382.2,444.5 L385.7,438.8 L387.9,432.2 L389.2,429.3 L391.7,423.4 L394.0,418.0 L396.8,410.3 L399.0,404.4 L401.9,397.1 L403.0,394.0 L440.0,394.0Z" fill="#d43e52" fill-rule="evenodd"/>
<g stroke="#333" stroke-width="1.5" fill="none">
<path d="M31.6,39 V511.2 H610"/>
<line x1="29" y1="71.2" x2="31.6" y2="71.2"/>
<line x1="29" y1="210.8" x2="31.6" y2="210.8"/>
<line x1="29" y1="350.1" x2="31.6" y2="350.1"/>
<line x1="29" y1="489.5" x2="31.6" y2="489.5"/>
<line x1="79.7" y1="511.2" x2="79.7" y2="513.8"/>
<line x1="212.5" y1="511.2" x2="212.5" y2="513.8"/>
<line x1="345.3" y1="511.2" x2="345.3" y2="513.8"/>
<line x1="478.1" y1="511.2" x2="478.1" y2="513.8"/>
</g>
<g font-family="Liberation Sans, Arial, sans-serif" font-size="9.8" fill="#555">
<text transform="translate(27.2,75.5) scale(1,1.06)" text-anchor="end">30</text>
<text transform="translate(27.2,215.1) scale(1,1.06)" text-anchor="end">20</text>
<text transform="translate(27.2,354.4) scale(1,1.06)" text-anchor="end">10</text>
<text transform="translate(27.2,493.8) scale(1,1.06)" text-anchor="end">0</text>
<text transform="translate(86.9,515.6) rotate(-90) scale(1,1.06)" text-anchor="end">−10</text>
<text transform="translate(219.7,515.6) rotate(-90) scale(1,1.06)" text-anchor="end">−5</text>
<text transform="translate(352.5,515.6) rotate(-90) scale(1,1.06)" text-anchor="end">0</text>
<text transform="translate(485.3,515.6) rotate(-90) scale(1,1.06)" text-anchor="end">5</text>
</g>
<text x="320.7" y="542.3" text-anchor="middle" font-family="Liberation Sans, Arial, sans-serif" font-weight="bold" font-size="11.9" fill="#262626">log2(fold change)</text>
<text transform="translate(11.4,274.9) rotate(-90)" text-anchor="middle" font-family="Liberation Sans, Arial, sans-serif" font-weight="bold" font-size="12.05" fill="#262626">−log10(FDR)</text>
<text x="627" y="251" font-family="Liberation Sans, Arial, sans-serif" font-weight="bold" font-size="11" fill="#262626">Regulation</text>
<circle cx="634.9" cy="266.0" r="2.4" fill="#d42c44"/>
<text x="649" y="269.4" font-family="Liberation Sans, Arial, sans-serif" font-size="8.8" fill="#2a2a2a">up</text>
<circle cx="634.9" cy="283.4" r="2.4" fill="#8a8a8a"/>
<text x="649" y="286.8" font-family="Liberation Sans, Arial, sans-serif" font-size="8.8" fill="#2a2a2a">no_diff</text>
<circle cx="634.9" cy="300.9" r="2.4" fill="#2a4fa2"/>
<text x="649" y="304.3" font-family="Liberation Sans, Arial, sans-serif" font-size="8.8" fill="#2a2a2a">down</text>
</svg>
</body></html>
